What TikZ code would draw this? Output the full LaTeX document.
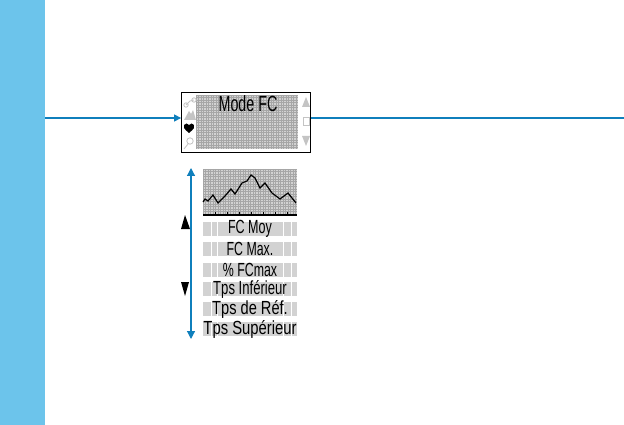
\documentclass[tikz,border=0pt]{standalone}
\usepackage{fontspec}
\setmainfont{Liberation Sans}
\usetikzlibrary{arrows.meta}
\definecolor{side}{HTML}{6CC4EB}
\definecolor{flow}{HTML}{0F7FBC}
\definecolor{lcd}{HTML}{D2D2D2}
\definecolor{lcdline}{HTML}{A6A6A6}
\definecolor{faint}{HTML}{C4C4C4}
\newcommand{\narrow}[2]{\scalebox{#1}[1]{#2}}
\tikzset{
  flowline/.style={draw=flow,line width=1.2pt},
  flowarrow/.style={flowline,-{Triangle[length=7pt,width=7pt]}},
  rowtext/.style={inner sep=0pt,font=\fontsize{19}{19}\selectfont,text=black},
  sep/.style={draw=white,line width=.6pt},
  screenbox/.style={draw=black,line width=.8pt,fill=white,minimum width=129pt,minimum height=60pt,inner sep=0pt}
}
\begin{document}
\begin{tikzpicture}[x=1pt,y=-1pt]
\useasboundingbox (0,0) rectangle (624,425);
\fill[side] (0,0) rectangle (45,425);
\coordinate (start) at (45,118);
\coordinate (finish) at (624,118);
\node[screenbox] (screen) at (246,122) {};
\draw[flowarrow] (start) -- (screen.west |- start);
\draw[flowline] (screen.east |- finish) -- (finish);
% main LCD
\fill[lcd] (196,95) rectangle (298,149);
\foreach \x in {196,198.5,...,298} \draw[lcdline,line width=.3pt] (\x,95) -- (\x,149);
\foreach \y in {95,97.5,...,149} \draw[lcdline,line width=.3pt] (196,\y) -- (298,\y);
\node[rowtext,font=\fontsize{22}{22}\selectfont] (mode) at (248,104) {\narrow{.65}{Mode FC}};
% left icons
\draw[faint,line width=.8pt] (186,105) circle (2.2) (194,100) circle (2.2) (186,105) -- (190,101) -- (194,100);
\fill[faint] (184,120) -- (189,111) -- (191,114) -- (193,110) -- (196,120) -- cycle;
\fill[black] (189,133) .. controls (184,129) and (183,127) .. (184,125) .. controls (185,123) and (188,123) .. (189,125) .. controls (190,123) and (193,123) .. (194,125) .. controls (195,127) and (194,129) .. (189,133) -- cycle;
\draw[faint,line width=.8pt] (190,141) circle (3.2) (188,144) -- (184,149);
% right icons
\fill[faint] (306,97) -- (302,107) -- (310,107) -- cycle;
\draw[faint,line width=.8pt] (303,117) rectangle (309,125);
\fill[faint] (306,146) -- (302,136) -- (310,136) -- cycle;
% graph
\fill[lcd] (203,169) rectangle (297,214);
\foreach \x in {203,205.5,...,297} \draw[lcdline,line width=.3pt] (\x,169) -- (\x,214);
\foreach \y in {169,171.5,...,213} \draw[lcdline,line width=.3pt] (203,\y) -- (297,\y);
\draw[black,line width=1.2pt] (203,202) -- (205,199) -- (208,201) -- (213,195) -- (218,203) -- (225,196) -- (231,189) -- (235,194) -- (242,183) -- (247,181) -- (251,175) -- (255,178) -- (260,188) -- (265,183) -- (272,193) -- (280,199) -- (288,193) -- (296,203);
\draw[black,line width=1.6pt] (203,215) -- (297,215);
\foreach \x in {215,227,...,287} \draw[black,line width=.6pt] (\x,212) -- (\x,215);
% rows
\foreach \yy/\nm/\tx/\sc in {
  229/rowa/FC Moy/.66,
  249/rowb/FC Max./.65,
  270/rowc/\% FCmax/.65,
  289/rowd/Tps Inférieur/.69,
  309/rowe/Tps de Réf./.77,
  329/rowf/Tps Supérieur/.78}{
  \fill[lcd] (203,\yy-7) rectangle (297,\yy+7);
  \foreach \x in {211,217,283,291} \draw[sep] (\x,\yy-7) -- (\x,\yy+7);
  \node[rowtext] (\nm) at (250,\yy) {\narrow{\sc}{\tx}};
}
% double arrow
\coordinate (top) at (191,168);
\coordinate (bot) at (191,339);
\draw[flowline,{Triangle[length=8pt,width=8pt]}-{Triangle[length=8pt,width=8pt]}] (top) -- (bot);
\fill[black] (185,215) -- (181,229) -- (190,229) -- cycle;
\fill[black] (185,296) -- (181,282) -- (189,282) -- cycle;
\end{tikzpicture}
\end{document}
